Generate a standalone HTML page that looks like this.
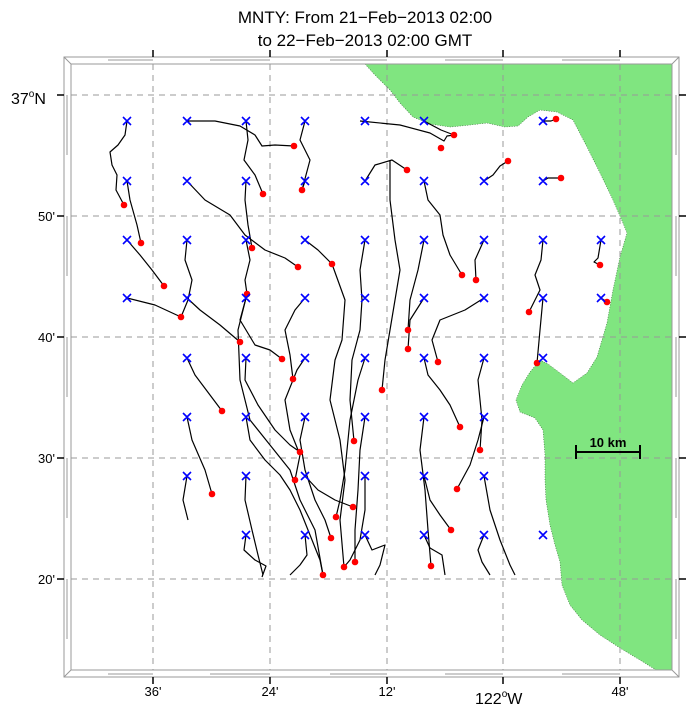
<!DOCTYPE html>
<html><head><meta charset="utf-8"><style>
html,body{margin:0;padding:0;background:#fff}
svg{display:block}
text{font-family:"Liberation Sans",sans-serif;fill:#000}
</style></head><body>
<svg width="691" height="710" viewBox="0 0 691 710" xmlns="http://www.w3.org/2000/svg">
<text x="365" y="23" font-size="17" text-anchor="middle">MNTY: From 21−Feb−2013 02:00</text>
<text x="365" y="46" font-size="17" text-anchor="middle">to 22−Feb−2013 02:00 GMT</text>

<!-- land -->
<path fill="#80e580" stroke="#3a6a3a" stroke-width="0.6" stroke-dasharray="1 1.5" d="M365,64 L375,75 L390,90 L400,103 L413,117 L430,124 L450,127 L470,125 L487,123 L505,127 L518,126 L528,117 L540,110 L557,112 L573,120 L587,147 L600,173 L613,200 L623,223 L627,233 L620,257 L613,290 L607,323 L597,357 L587,373 L573,383 L560,373 L548,364 L540,360 L530,372 L522,385 L516,400 L520,412 L535,418 L543,430 L545,455 L545,480 L546,500 L550,525 L555,545 L560,562 L562,585 L570,605 L582,620 L600,635 L620,648 L640,660 L656,670 L672,670 L672,64 Z"/>

<!-- grid -->
<g stroke="#999" stroke-width="1" stroke-dasharray="6 5" fill="none">
<line x1="153" y1="64" x2="153" y2="670"/><line x1="270" y1="64" x2="270" y2="670"/>
<line x1="387" y1="64" x2="387" y2="670"/><line x1="503" y1="64" x2="503" y2="670"/>
<line x1="620" y1="64" x2="620" y2="670"/>
<line x1="71" y1="95" x2="672" y2="95"/><line x1="71" y1="216" x2="672" y2="216"/>
<line x1="71" y1="337" x2="672" y2="337"/><line x1="71" y1="458" x2="672" y2="458"/>
<line x1="71" y1="579" x2="672" y2="579"/>
</g>

<!-- frame -->
<g stroke="#999" fill="none" stroke-width="1">
<rect x="64" y="57" width="615" height="620"/>
<rect x="71" y="64" width="601" height="606"/>
<line x1="64" y1="57" x2="71" y2="64"/><line x1="679" y1="57" x2="672" y2="64"/>
<line x1="64" y1="677" x2="71" y2="670"/><line x1="679" y1="677" x2="672" y2="670"/>
<line x1="108" y1="60" x2="153" y2="60"/><line x1="210" y1="60" x2="270" y2="60"/><line x1="330" y1="60" x2="387" y2="60"/><line x1="445" y1="60" x2="503" y2="60"/><line x1="562" y1="60" x2="620" y2="60"/>
<line x1="108" y1="674" x2="153" y2="674"/><line x1="210" y1="674" x2="270" y2="674"/><line x1="330" y1="674" x2="387" y2="674"/><line x1="445" y1="674" x2="503" y2="674"/><line x1="562" y1="674" x2="620" y2="674"/>
<line x1="67" y1="95" x2="67" y2="155"/><line x1="67" y1="216" x2="67" y2="276"/><line x1="67" y1="337" x2="67" y2="397"/><line x1="67" y1="458" x2="67" y2="518"/><line x1="67" y1="579" x2="67" y2="639"/>
<line x1="676" y1="95" x2="676" y2="155"/><line x1="676" y1="216" x2="676" y2="276"/><line x1="676" y1="337" x2="676" y2="397"/><line x1="676" y1="458" x2="676" y2="518"/><line x1="676" y1="579" x2="676" y2="639"/>
</g>
<g stroke="#000" stroke-width="1.5">
<line x1="153" y1="50" x2="153" y2="57"/><line x1="270" y1="50" x2="270" y2="57"/><line x1="387" y1="50" x2="387" y2="57"/><line x1="503" y1="50" x2="503" y2="57"/><line x1="620" y1="50" x2="620" y2="57"/>
<line x1="153" y1="677" x2="153" y2="684"/><line x1="270" y1="677" x2="270" y2="684"/><line x1="387" y1="677" x2="387" y2="684"/><line x1="503" y1="677" x2="503" y2="684"/><line x1="620" y1="677" x2="620" y2="684"/>
<line x1="57" y1="95" x2="64" y2="95"/><line x1="57" y1="216" x2="64" y2="216"/><line x1="57" y1="337" x2="64" y2="337"/><line x1="57" y1="458" x2="64" y2="458"/><line x1="57" y1="579" x2="64" y2="579"/>
<line x1="679" y1="95" x2="686" y2="95"/><line x1="679" y1="216" x2="686" y2="216"/><line x1="679" y1="337" x2="686" y2="337"/><line x1="679" y1="458" x2="686" y2="458"/><line x1="679" y1="579" x2="686" y2="579"/>
</g>

<!-- labels -->
<text x="11" y="104" font-size="16">37<tspan font-size="10" dy="-7">o</tspan><tspan dy="7">N</tspan></text>
<text x="38" y="221" font-size="13">50'</text>
<text x="38" y="342" font-size="13">40'</text>
<text x="38" y="463" font-size="13">30'</text>
<text x="38" y="584" font-size="13">20'</text>
<text x="153" y="696" font-size="13" text-anchor="middle">36'</text>
<text x="270" y="696" font-size="13" text-anchor="middle">24'</text>
<text x="387" y="696" font-size="13" text-anchor="middle">12'</text>
<text x="475" y="704" font-size="16">122<tspan font-size="10" dy="-7">o</tspan><tspan dy="7">W</tspan></text>
<text x="620" y="696" font-size="13" text-anchor="middle">48'</text>

<!-- scale bar -->
<g stroke="#000" stroke-width="2"><line x1="576" y1="452" x2="640" y2="452"/><line x1="576" y1="445" x2="576" y2="459"/><line x1="640" y1="445" x2="640" y2="459"/></g>
<text x="608" y="447" font-size="13" font-weight="bold" text-anchor="middle">10 km</text>

<!-- tracks -->
<g stroke="#000" stroke-width="1.2" fill="none" stroke-linejoin="round">
<path d="M127,121 L125,135 L118,145 L110,152 L112,165 L117,175 L116,190 L124,205"/>
<path d="M187,121 L215,121 L240,126 L255,135 L262,146 L275,145 L294,146"/>
<path d="M246,121 L248,140 L244,160 L255,175 L263,194"/>
<path d="M305,121 L300,140 L310,160 L302,190"/>
<path d="M360,121 L400,125 L430,133 L444,141 L447,136 L454,135"/>
<path d="M424,121 L441,130 L454,135"/>
<path d="M543,121 L551,121 L556,119"/>
<path d="M127,181 L130,200 L137,225 L141,243"/>
<path d="M187,181 L205,200 L230,215 L245,235 L265,250 L285,258 L298,267"/>
<path d="M246,181 L245,200 L248,225 L252,248"/>
<path d="M305,181 L302,190"/>
<path d="M365,181 L375,165 L392,160 L407,170"/>
<path d="M424,181 L428,200 L440,215 L443,235 L450,255 L462,275"/>
<path d="M484,181 L493,175 L500,166 L508,161"/>
<path d="M543,181 L548,178 L561,178"/>
<path d="M127,240 L140,255 L152,270 L164,286"/>
<path d="M187,240 L185,260 L192,280 L188,300 L181,317"/>
<path d="M246,240 L250,260 L245,280 L247,294"/>
<path d="M305,240 L318,250 L332,264"/>
<path d="M365,240 L360,270 L362,300 L360,330 L352,360 L350,400 L354,441"/>
<path d="M424,240 L418,270 L410,300 L408,330"/>
<path d="M484,240 L475,260 L476,280"/>
<path d="M543,240 L541,260 L535,275 L540,290 L529,312"/>
<path d="M601,240 L598,258 L594,262 L600,265"/>
<path d="M127,298 L155,305 L181,317"/>
<path d="M187,298 L200,310 L220,325 L240,342"/>
<path d="M246,298 L240,320 L255,345 L270,350 L282,359"/>
<path d="M305,298 L295,310 L285,330 L290,355 L293,379"/>
<path d="M247,294 L238,330 L240,380 L250,420 L270,445 L290,470 L300,500 L315,530 L323,575"/>
<path d="M332,264 L345,300 L342,340 L335,360 L330,400 L340,440 L345,480 L340,520 L344,567"/>
<path d="M390,160 L390,200 L395,240 L400,270 L395,300 L390,330 L385,360 L382,390"/>
<path d="M424,298 L410,320 L408,349"/>
<path d="M484,298 L465,310 L440,320 L432,340 L438,362"/>
<path d="M543,298 L540,330 L537,363"/>
<path d="M601,298 L604,300 L607,302"/>
<path d="M187,358 L195,375 L210,395 L222,411"/>
<path d="M246,358 L245,380 L258,405 L275,430 L290,445 L300,452"/>
<path d="M305,358 L297,370 L285,400 L290,430 L300,455 L295,480"/>
<path d="M365,358 L358,380 L350,420 L345,470 L340,500 L336,517"/>
<path d="M424,358 L428,375 L440,390 L450,405 L460,427"/>
<path d="M484,358 L478,380 L482,420 L480,450"/>
<path d="M543,358 L540,361 L537,363"/>
<path d="M187,417 L192,440 L205,470 L212,494"/>
<path d="M246,417 L250,440 L265,460 L280,475 L290,490 L300,510 L312,540 L320,560 L323,575"/>
<path d="M305,417 L300,440 L305,470 L315,500 L325,520 L331,538"/>
<path d="M365,417 L360,450 L358,490 L355,530 L355,562"/>
<path d="M424,417 L420,450 L425,490 L428,530 L431,566"/>
<path d="M484,417 L478,440 L470,465 L457,489"/>
<path d="M187,476 L183,500 L188,520"/>
<path d="M246,476 L245,500 L252,530 L258,555 L263,575"/>
<path d="M305,476 L318,490 L335,500 L353,507"/>
<path d="M365,476 L365,510 L360,540 L350,560 L344,567"/>
<path d="M424,476 L430,500 L440,515 L451,530"/>
<path d="M484,476 L490,510 L500,540 L510,565 L515,575"/>
<path d="M246,535 L244,550 L255,560 L266,566 L262,577"/>
<path d="M305,535 L307,555 L300,565 L290,575"/>
<path d="M365,535 L372,550 L385,545 L380,565 L375,575"/>
<path d="M424,535 L430,548 L442,555 L445,575"/>
<path d="M484,535 L478,550 L482,562 L490,575"/>
</g>

<!-- end dots -->
<g fill="#f00">
<circle cx="294" cy="146" r="3.3"/><circle cx="263" cy="194" r="3.3"/><circle cx="302" cy="190" r="3.3"/><circle cx="124" cy="205" r="3.3"/>
<circle cx="141" cy="243" r="3.3"/><circle cx="252" cy="248" r="3.3"/><circle cx="298" cy="267" r="3.3"/><circle cx="332" cy="264" r="3.3"/>
<circle cx="164" cy="286" r="3.3"/><circle cx="181" cy="317" r="3.3"/><circle cx="247" cy="294" r="3.3"/><circle cx="240" cy="342" r="3.3"/>
<circle cx="282" cy="359" r="3.3"/><circle cx="293" cy="379" r="3.3"/><circle cx="407" cy="170" r="3.3"/><circle cx="454" cy="135" r="3.3"/>
<circle cx="441" cy="148" r="3.3"/><circle cx="556" cy="119" r="3.3"/><circle cx="508" cy="161" r="3.3"/><circle cx="561" cy="178" r="3.3"/>
<circle cx="462" cy="275" r="3.3"/><circle cx="476" cy="280" r="3.3"/><circle cx="600" cy="265" r="3.3"/><circle cx="607" cy="302" r="3.3"/>
<circle cx="529" cy="312" r="3.3"/><circle cx="408" cy="330" r="3.3"/><circle cx="408" cy="349" r="3.3"/><circle cx="438" cy="362" r="3.3"/>
<circle cx="537" cy="363" r="3.3"/><circle cx="382" cy="390" r="3.3"/><circle cx="222" cy="411" r="3.3"/><circle cx="212" cy="494" r="3.3"/>
<circle cx="300" cy="452" r="3.3"/><circle cx="295" cy="480" r="3.3"/><circle cx="354" cy="441" r="3.3"/><circle cx="460" cy="427" r="3.3"/>
<circle cx="480" cy="450" r="3.3"/><circle cx="457" cy="489" r="3.3"/><circle cx="336" cy="517" r="3.3"/><circle cx="353" cy="507" r="3.3"/>
<circle cx="331" cy="538" r="3.3"/><circle cx="323" cy="575" r="3.3"/><circle cx="344" cy="567" r="3.3"/><circle cx="355" cy="562" r="3.3"/>
<circle cx="431" cy="566" r="3.3"/><circle cx="451" cy="530" r="3.3"/>
</g>

<!-- deployment X -->
<g stroke="#00f" stroke-width="1.6" id="xs">
<path d="M123,117 l8,8 m0,-8 l-8,8 M183,117 l8,8 m0,-8 l-8,8 M242,117 l8,8 m0,-8 l-8,8 M301,117 l8,8 m0,-8 l-8,8 M361,117 l8,8 m0,-8 l-8,8 M420,117 l8,8 m0,-8 l-8,8 M539,117 l8,8 m0,-8 l-8,8"/>
<path d="M123,177 l8,8 m0,-8 l-8,8 M183,177 l8,8 m0,-8 l-8,8 M242,177 l8,8 m0,-8 l-8,8 M301,177 l8,8 m0,-8 l-8,8 M361,177 l8,8 m0,-8 l-8,8 M420,177 l8,8 m0,-8 l-8,8 M480,177 l8,8 m0,-8 l-8,8 M539,177 l8,8 m0,-8 l-8,8"/>
<path d="M123,236 l8,8 m0,-8 l-8,8 M183,236 l8,8 m0,-8 l-8,8 M242,236 l8,8 m0,-8 l-8,8 M301,236 l8,8 m0,-8 l-8,8 M361,236 l8,8 m0,-8 l-8,8 M420,236 l8,8 m0,-8 l-8,8 M480,236 l8,8 m0,-8 l-8,8 M539,236 l8,8 m0,-8 l-8,8 M597,236 l8,8 m0,-8 l-8,8"/>
<path d="M123,294 l8,8 m0,-8 l-8,8 M183,294 l8,8 m0,-8 l-8,8 M242,294 l8,8 m0,-8 l-8,8 M301,294 l8,8 m0,-8 l-8,8 M361,294 l8,8 m0,-8 l-8,8 M420,294 l8,8 m0,-8 l-8,8 M480,294 l8,8 m0,-8 l-8,8 M539,294 l8,8 m0,-8 l-8,8 M597,294 l8,8 m0,-8 l-8,8"/>
<path d="M183,354 l8,8 m0,-8 l-8,8 M242,354 l8,8 m0,-8 l-8,8 M301,354 l8,8 m0,-8 l-8,8 M361,354 l8,8 m0,-8 l-8,8 M420,354 l8,8 m0,-8 l-8,8 M480,354 l8,8 m0,-8 l-8,8 M539,354 l8,8 m0,-8 l-8,8"/>
<path d="M183,413 l8,8 m0,-8 l-8,8 M242,413 l8,8 m0,-8 l-8,8 M301,413 l8,8 m0,-8 l-8,8 M361,413 l8,8 m0,-8 l-8,8 M420,413 l8,8 m0,-8 l-8,8 M480,413 l8,8 m0,-8 l-8,8"/>
<path d="M183,472 l8,8 m0,-8 l-8,8 M242,472 l8,8 m0,-8 l-8,8 M301,472 l8,8 m0,-8 l-8,8 M361,472 l8,8 m0,-8 l-8,8 M420,472 l8,8 m0,-8 l-8,8 M480,472 l8,8 m0,-8 l-8,8"/>
<path d="M242,531 l8,8 m0,-8 l-8,8 M301,531 l8,8 m0,-8 l-8,8 M361,531 l8,8 m0,-8 l-8,8 M420,531 l8,8 m0,-8 l-8,8 M480,531 l8,8 m0,-8 l-8,8 M539,531 l8,8 m0,-8 l-8,8"/>
</g>
</svg>
</body></html>
